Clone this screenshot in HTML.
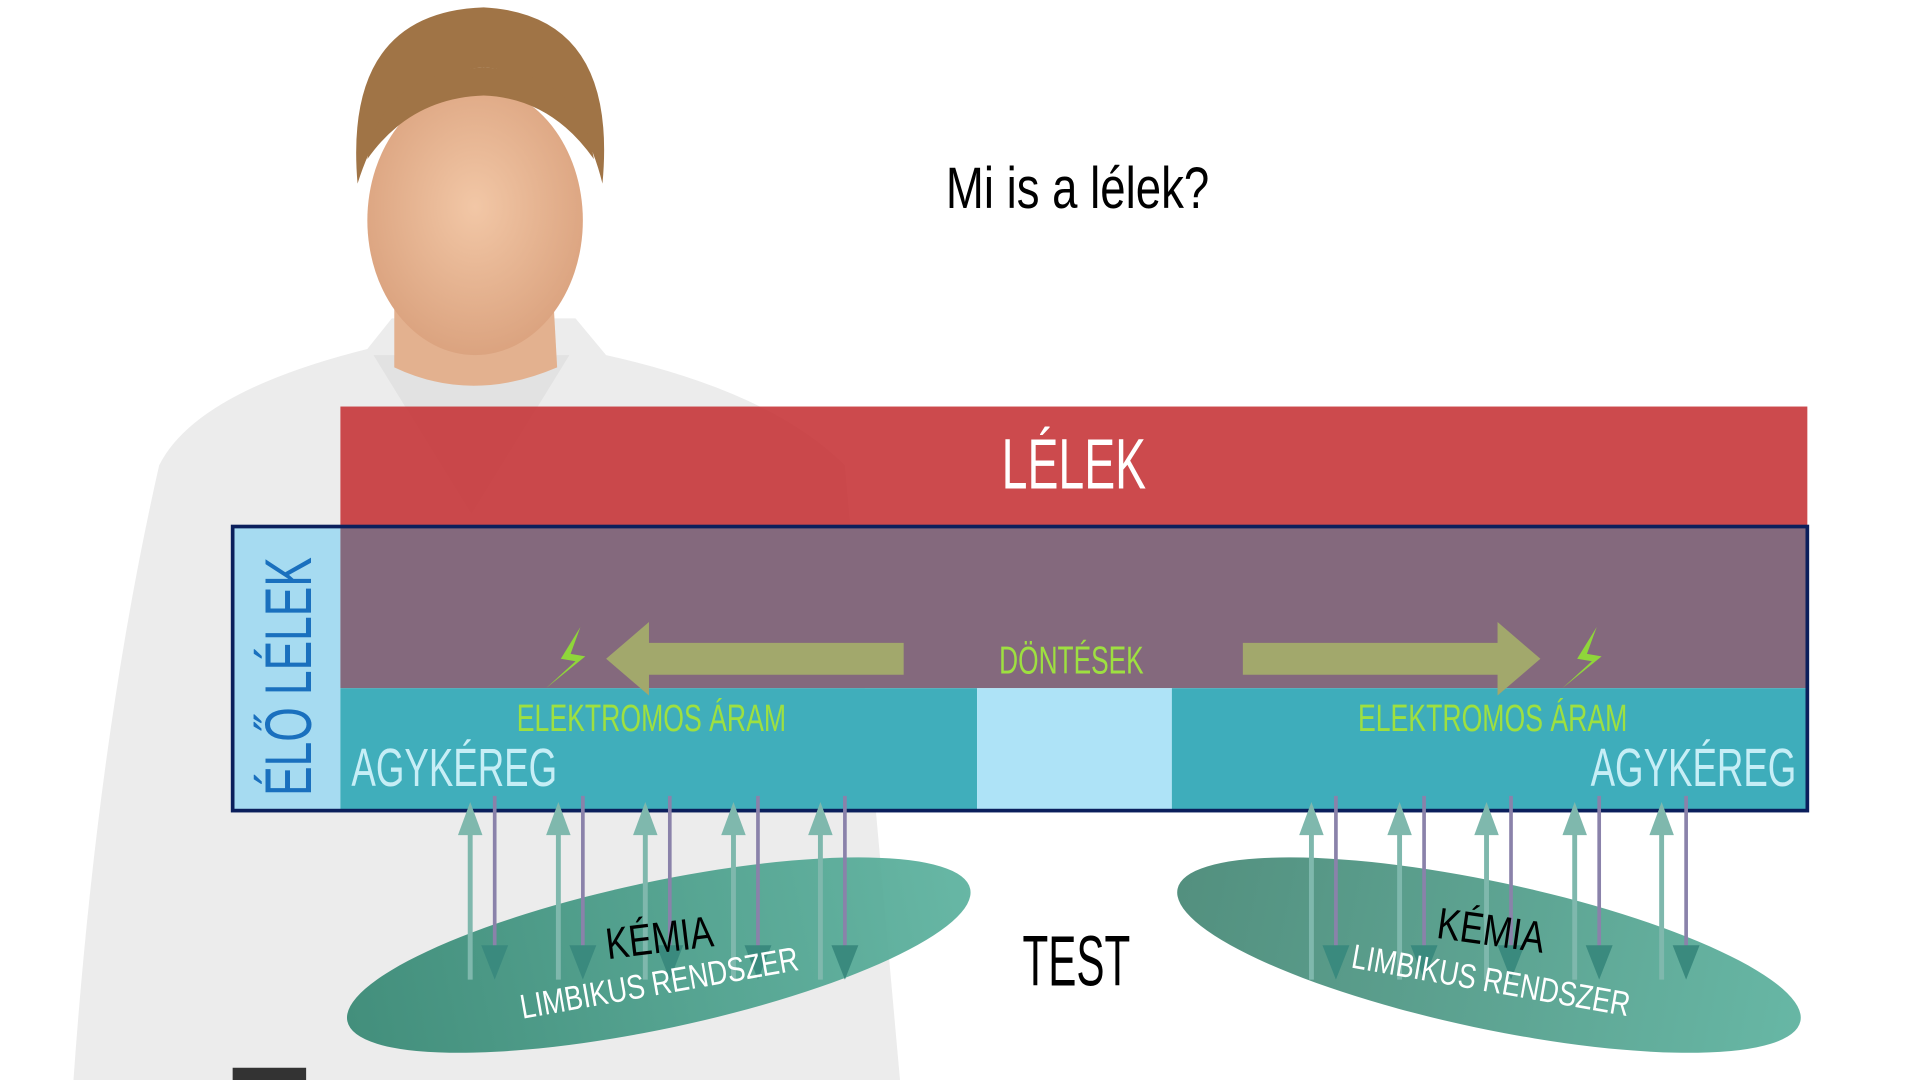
<!DOCTYPE html>
<html><head><meta charset="utf-8"><style>html,body{margin:0;padding:0;background:#fff;overflow:hidden}svg{display:block}text{font-family:"Liberation Sans Narrow","Liberation Sans",sans-serif}</style></head>
<body>
<svg width="1920" height="1080" viewBox="0 0 1568 882" preserveAspectRatio="none" xmlns="http://www.w3.org/2000/svg">
<defs>
<linearGradient id="el" x1="0" x2="1"><stop offset="0" stop-color="#3a8a76"/><stop offset="1" stop-color="#5fb3a0"/></linearGradient>
<linearGradient id="er" x1="0" x2="1"><stop offset="0" stop-color="#4a8a78"/><stop offset="1" stop-color="#5fb3a0"/></linearGradient>
<radialGradient id="face" cx="0.5" cy="0.45" r="0.6"><stop offset="0" stop-color="#f2c7a6"/><stop offset="1" stop-color="#d9a07c"/></radialGradient>
</defs>
<rect width="1568" height="882" fill="#fff"/>
<!-- person -->
<path d="M130 380 Q160 320 300 285 L320 260 L470 260 L495 290 Q630 320 690 380 L735 882 L60 882 Q80 600 130 380Z" fill="#ececec"/>
<path d="M305 290 L385 420 L465 290 Z" fill="#e2e2e2"/>
<path d="M322 210 L322 300 Q385 330 455 300 L450 210Z" fill="#e3b18f"/>
<path d="M292 150 Q280 10 395 6 Q505 12 492 150 Q470 60 395 55 Q320 60 292 150Z" fill="#a07446"/>
<ellipse cx="388" cy="180" rx="88" ry="110" fill="url(#face)"/>
<path d="M300 130 Q310 60 395 55 Q475 60 485 130 Q450 80 395 78 Q335 80 300 130Z" fill="#a07446"/>
<rect x="190" y="872" width="60" height="10" fill="#333"/>
<!-- title -->
<text x="880" y="170" font-size="48" text-anchor="middle" textLength="215" lengthAdjust="spacingAndGlyphs">Mi is a lélek?</text>
<!-- red bar -->
<rect x="278" y="332" width="1198" height="97" fill="#c6363a" fill-opacity="0.9"/>
<text x="877" y="399" font-size="58" fill="#fff" text-anchor="middle" textLength="118" lengthAdjust="spacingAndGlyphs">LÉLEK</text>
<!-- blue box -->
<rect x="190" y="430" width="88" height="232" fill="#a6dbf1"/>
<rect x="278" y="430" width="1198" height="132" fill="#806479" fill-opacity="0.97"/>
<rect x="278" y="562" width="520" height="100" fill="#3aabb9" fill-opacity="0.97"/>
<rect x="798" y="562" width="159" height="100" fill="#aee3f7"/>
<rect x="957" y="562" width="519" height="100" fill="#3eadbb"/>
<rect x="190" y="430" width="1286" height="232" fill="none" stroke="#0b1f5c" stroke-width="3"/>
<text transform="translate(254,650) rotate(-90)" font-size="54" fill="#1a70be" textLength="195" lengthAdjust="spacingAndGlyphs">ÉLŐ LÉLEK</text>
<!-- arrows -->
<polygon points="738,525 530,525 530,508 495,538 530,568 530,551 738,551" fill="#a2a86c"/>
<polygon points="1015,525 1223,525 1223,508 1258,538 1223,568 1223,551 1015,551" fill="#a2a86c"/>
<polygon points="474,512 458,538 470,540 446,562 478,536 466,534" fill="#8fd63a"/>
<polygon points="1304,512 1288,538 1300,540 1276,562 1308,536 1296,534" fill="#8fd63a"/>
<text x="875" y="550" font-size="32" fill="#9ee040" text-anchor="middle" textLength="118" lengthAdjust="spacingAndGlyphs">DÖNTÉSEK</text>
<text x="532" y="597" font-size="31" fill="#9ee040" text-anchor="middle" textLength="220" lengthAdjust="spacingAndGlyphs">ELEKTROMOS ÁRAM</text>
<text x="1219" y="597" font-size="31" fill="#9ee040" text-anchor="middle" textLength="220" lengthAdjust="spacingAndGlyphs">ELEKTROMOS ÁRAM</text>
<text x="287" y="642" font-size="44" fill="#c6eef6" textLength="168" lengthAdjust="spacingAndGlyphs">AGYKÉREG</text>
<text x="1467" y="642" font-size="44" fill="#c6eef6" text-anchor="end" textLength="168" lengthAdjust="spacingAndGlyphs">AGYKÉREG</text>
<!-- ellipses -->
<ellipse cx="538" cy="780" rx="260" ry="60" transform="rotate(-12 538 780)" fill="url(#el)" opacity="0.95"/>
<ellipse cx="1216" cy="780" rx="260" ry="60" transform="rotate(12 1216 780)" fill="url(#er)" opacity="0.95"/>
<g id="va">
<g fill="#7fb8ad" stroke="#7fb8ad">
<path d="M384 800 V680" stroke-width="4"/><polygon points="374,682 384,655 394,682" stroke="none"/>
<path d="M456 800 V680" stroke-width="4"/><polygon points="446,682 456,655 466,682" stroke="none"/>
<path d="M527 800 V680" stroke-width="4"/><polygon points="517,682 527,655 537,682" stroke="none"/>
<path d="M599 800 V680" stroke-width="4"/><polygon points="589,682 599,655 609,682" stroke="none"/>
<path d="M670 800 V680" stroke-width="4"/><polygon points="660,682 670,655 680,682" stroke="none"/>
</g>
<g fill="#3a8a7e" stroke="#8a82aa">
<path d="M404 650 V775" stroke-width="3"/><polygon points="393,772 404,800 415,772" stroke="none"/>
<path d="M476 650 V775" stroke-width="3"/><polygon points="465,772 476,800 487,772" stroke="none"/>
<path d="M547 650 V775" stroke-width="3"/><polygon points="536,772 547,800 558,772" stroke="none"/>
<path d="M619 650 V775" stroke-width="3"/><polygon points="608,772 619,800 630,772" stroke="none"/>
<path d="M690 650 V775" stroke-width="3"/><polygon points="679,772 690,800 701,772" stroke="none"/>
</g>
</g>
<use href="#va" transform="translate(687,0)"/>
<text transform="translate(540,778) rotate(-7)" font-size="36" text-anchor="middle" textLength="88" lengthAdjust="spacingAndGlyphs">KÉMIA</text>
<text transform="translate(540,812) rotate(-10)" font-size="28" fill="#fff" text-anchor="middle" textLength="230" lengthAdjust="spacingAndGlyphs">LIMBIKUS RENDSZER</text>
<text transform="translate(1216,772) rotate(8)" font-size="36" text-anchor="middle" textLength="88" lengthAdjust="spacingAndGlyphs">KÉMIA</text>
<text transform="translate(1216,810) rotate(10)" font-size="28" fill="#fff" text-anchor="middle" textLength="230" lengthAdjust="spacingAndGlyphs">LIMBIKUS RENDSZER</text>
<text x="879" y="805" font-size="58" text-anchor="middle" textLength="88" lengthAdjust="spacingAndGlyphs">TEST</text>
</svg>
</body></html>
